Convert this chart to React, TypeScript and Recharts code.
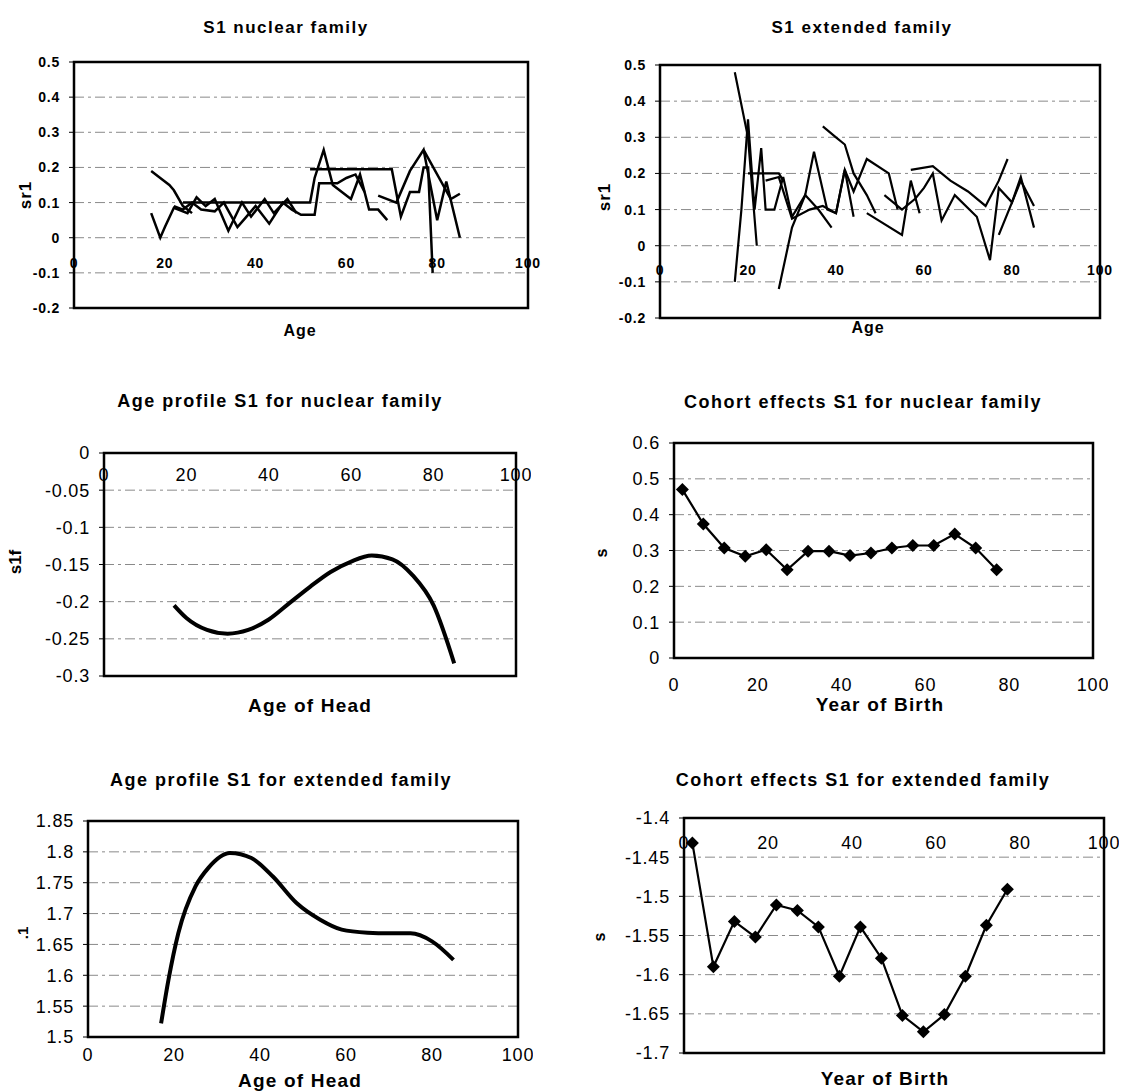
import React from 'react';
import { LineChart, Line, XAxis, YAxis, CartesianGrid, ReferenceArea, ReferenceDot } from 'recharts';

const FONT = '"Liberation Sans", Arial, sans-serif';

type Pt = [number, number];

// ---- axis ticks ----
const xTicks100 = [0, 20, 40, 60, 80, 100];
const srTicks = [-0.2, -0.1, 0, 0.1, 0.2, 0.3, 0.4, 0.5];
const s1fTicks = [-0.3, -0.25, -0.2, -0.15, -0.1, -0.05, 0];
const cohortNucTicks = [0, 0.1, 0.2, 0.3, 0.4, 0.5, 0.6];
const extProfileTicks = [1.5, 1.55, 1.6, 1.65, 1.7, 1.75, 1.8, 1.85];
const cohortExtTicks = [-1.7, -1.65, -1.6, -1.55, -1.5, -1.45, -1.4];

// ---- S1 nuclear family: raw sr1 by age, one line per cohort ----
const nuc1: Pt[] = [[17, 0.19], [19, 0.17], [21, 0.15], [22, 0.135], [24, 0.09], [26, 0.07]];
const nuc2: Pt[] = [[17, 0.07], [19, 0.0], [20, 0.03], [22, 0.085], [25, 0.07], [27, 0.115], [29, 0.09], [31, 0.11], [34, 0.02], [37, 0.1], [39, 0.06], [42, 0.11], [44, 0.07], [47, 0.11], [49, 0.07]];
const nuc3: Pt[] = [[22, 0.09], [24, 0.08], [26, 0.1], [28, 0.08], [31, 0.075], [33, 0.1], [36, 0.03], [38, 0.06], [40, 0.09], [43, 0.04], [46, 0.1], [48, 0.08], [50, 0.065], [53, 0.065], [54, 0.155], [58, 0.155], [60, 0.17], [62, 0.18], [64, 0.13]];
const nuc4: Pt[] = [[24, 0.1], [52, 0.1], [53, 0.17], [55, 0.25], [57, 0.15], [59, 0.13], [61, 0.11], [63, 0.18], [65, 0.08], [67, 0.08], [69, 0.05]];
const nuc5: Pt[] = [[52, 0.195], [70, 0.195], [72, 0.06], [74, 0.13], [76, 0.13], [77, 0.2], [78, 0.2], [79, -0.1]];
const nuc6: Pt[] = [[67, 0.12], [71, 0.1], [74, 0.19], [77, 0.25], [80, 0.05], [82, 0.16], [85, 0.0]];
const nuc7: Pt[] = [[77, 0.25], [83, 0.11], [85, 0.125]];

// ---- S1 extended family ----
const ext1: Pt[] = [[17, 0.48], [20, 0.3], [22, 0.0]];
const ext2: Pt[] = [[17, -0.1], [18.5, 0.1], [20, 0.35], [21.5, 0.1], [23, 0.27], [24, 0.1], [26, 0.1], [28, 0.19], [30, 0.08], [33, 0.14], [35, 0.26], [38, 0.1], [40, 0.09], [42, 0.21], [44, 0.08]];
const ext3: Pt[] = [[20, 0.2], [27, 0.2], [28, 0.18]];
const ext4: Pt[] = [[24, 0.18], [27, 0.19], [30, 0.075], [34, 0.1], [37, 0.11], [40, 0.09], [42, 0.21], [44, 0.15], [47, 0.24], [52, 0.2], [54, 0.1]];
const ext5: Pt[] = [[27, -0.12], [30, 0.05], [33, 0.14], [36, 0.1], [39, 0.05]];
const ext6: Pt[] = [[37, 0.33], [40, 0.3], [42, 0.28], [44, 0.2], [47, 0.14], [49, 0.09]];
const ext7: Pt[] = [[47, 0.09], [55, 0.03], [57, 0.18], [59, 0.09]];
const ext8: Pt[] = [[51, 0.14], [55, 0.1], [58, 0.13], [60, 0.16], [62, 0.2], [64, 0.07], [67, 0.14], [72, 0.08], [75, -0.04], [77, 0.16], [80, 0.12], [82, 0.19], [85, 0.05]];
const ext9: Pt[] = [[57, 0.21], [62, 0.22], [66, 0.18], [70, 0.15], [74, 0.11], [77, 0.18], [79, 0.24]];
const ext10: Pt[] = [[77, 0.03], [82, 0.18], [85, 0.11]];

// ---- Age profile S1 for nuclear family ----
const nucProfileAge = [17, 20, 25, 30, 35, 40, 45, 50, 55, 60, 65, 70, 75, 80, 85];
const nucProfileVal = [-0.205, -0.222, -0.238, -0.243, -0.238, -0.224, -0.202, -0.18, -0.16, -0.146, -0.138, -0.143, -0.165, -0.205, -0.283];

// ---- Age profile S1 for extended family ----
const extProfileAge = [17, 18.7, 21, 25, 28, 33, 38, 43, 48.5, 54, 59, 65, 70, 75, 80, 85];
const extProfileVal = [1.522, 1.592, 1.668, 1.744, 1.774, 1.798, 1.79, 1.76, 1.717, 1.69, 1.674, 1.669, 1.668, 1.668, 1.655, 1.625];

// ---- Cohort effects ----
const cohortYears = [2, 7, 12, 17, 22, 27, 32, 37, 42, 47, 52, 57, 62, 67, 72, 77];
const cohortNucVal = [0.47, 0.374, 0.307, 0.284, 0.302, 0.246, 0.298, 0.298, 0.286, 0.293, 0.307, 0.314, 0.314, 0.346, 0.307, 0.246];
const cohortExtVal = [-1.432, -1.59, -1.532, -1.552, -1.511, -1.518, -1.539, -1.602, -1.539, -1.579, -1.652, -1.673, -1.651, -1.602, -1.537, -1.491];

const zip = (xs: number[], ys: number[]): Pt[] => xs.map((x, i) => [x, ys[i]]);
const rows = (pts: Pt[]) => pts.map(([x, y]) => ({ x, y }));

function Diamond(props: any) {
  const { cx, cy } = props;
  if (cx == null || cy == null) return null;
  const r = 6.5;
  return <polygon points={`${cx},${cy - r} ${cx + r},${cy} ${cx},${cy + r} ${cx - r},${cy}`} fill="#000" />;
}

type Series = { pts: Pt[]; width: number; curve?: 'linear' | 'monotone'; dots?: boolean };

type PanelProps = {
  box: [number, number, number, number]; // left, top, right, bottom
  yDomain: [number, number];
  yTicks: number[];
  xAt: 'bottom' | number;
  xLabelGap: number;
  fontSize: number;
  bold?: boolean;
  spacing?: number;
  series: Series[];
};

function Panel({ box, yDomain, yTicks, xAt, xLabelGap, fontSize, bold, spacing = 0, series }: PanelProps) {
  const [l, t, r, b] = box;
  const yW = 75;
  const left = l - yW;
  const top = t - 10;
  const bottomPad = xAt === 'bottom' ? 40 : 15;
  const width = r - left + 15;
  const height = b - top + bottomPad;
  const tickStyle = { fill: '#000', fontSize, fontFamily: FONT, fontWeight: bold ? 700 : 400, letterSpacing: spacing };
  return (
    <div style={{ position: 'absolute', left, top }}>
      <LineChart width={width} height={height} margin={{ top: 10, right: 15, left: 0, bottom: xAt === 'bottom' ? 0 : 15 }}>
        <CartesianGrid vertical={false} horizontal stroke="#8a8a8a" strokeDasharray="10 4 3 4" />
        {xAt === 'bottom' ? (
          <XAxis type="number" dataKey="x" domain={[0, 100]} ticks={xTicks100} interval={0} allowDataOverflow
            axisLine={false} tickLine={false} tickSize={0} tickMargin={xLabelGap} height={40} tick={tickStyle} />
        ) : (
          <XAxis type="number" dataKey="x" domain={[0, 100]} ticks={xTicks100} allowDataOverflow hide />
        )}
        <YAxis type="number" domain={yDomain} ticks={yTicks} interval={0} allowDataOverflow width={yW}
          axisLine={false} tickLine={{ stroke: '#000' }} tickSize={5} tickMargin={9} tick={tickStyle} />
        <ReferenceArea x1={0} x2={100} y1={yDomain[0]} y2={yDomain[1]} fill="none" fillOpacity={0}
          stroke="#000" strokeWidth={2.5} ifOverflow="visible" />
        {series.map((s, i) => (
          <Line key={i} data={rows(s.pts)} dataKey="y" type={s.curve ?? 'linear'} stroke="#000" strokeWidth={s.width}
            dot={s.dots ? <Diamond /> : false} activeDot={false} isAnimationActive={false} />
        ))}
        {xAt !== 'bottom' && xTicks100.map((v) => (
          <ReferenceDot key={`xl${v}`} x={v} y={xAt} r={0} ifOverflow="visible" stroke="none" fill="none"
            label={{ value: String(v), position: 'bottom', offset: xLabelGap, ...tickStyle }} />
        ))}
      </LineChart>
    </div>
  );
}

function Text({ x, y, size, children, rotate, bold = true, spacing = 0 }: { x: number; y: number; size: number; children: React.ReactNode; rotate?: boolean; bold?: boolean; spacing?: number }) {
  return (
    <div style={{
      position: 'absolute', left: x, top: y, whiteSpace: 'nowrap', fontFamily: FONT, fontSize: size,
      fontWeight: bold ? 700 : 400, letterSpacing: spacing, color: '#000', lineHeight: 1,
      transform: `translate(-50%, -50%)${rotate ? ' rotate(-90deg)' : ''}`,
    }}>{children}</div>
  );
}

export default function App() {
  const nucSeries: Series[] = [nuc1, nuc2, nuc3, nuc4, nuc5, nuc6, nuc7].map((pts) => ({ pts, width: 2.5 }));
  const extSeries: Series[] = [ext1, ext2, ext3, ext4, ext5, ext6, ext7, ext8, ext9, ext10].map((pts) => ({ pts, width: 2.2 }));
  return (
    <div style={{ position: 'absolute', left: 0, top: 0, width: 1128, height: 1092, background: '#fff', overflow: 'hidden' }}>
      {/* row 1 */}
      <Text x={286} y={27} size={17} spacing={1.5}>S1 nuclear family</Text>
      <Panel box={[74, 62, 528, 308]} yDomain={[-0.2, 0.5]} yTicks={srTicks} xAt={0} xLabelGap={20} fontSize={14} bold spacing={0.8} series={nucSeries} />
      <Text x={300} y={331} size={16} spacing={1}>Age</Text>
      <Text x={25} y={195} size={17} rotate spacing={1}>sr1</Text>

      <Text x={862} y={27} size={17} spacing={1.5}>S1 extended family</Text>
      <Panel box={[660, 65, 1100, 318]} yDomain={[-0.2, 0.5]} yTicks={srTicks} xAt={0} xLabelGap={19} fontSize={14} bold spacing={0.8} series={extSeries} />
      <Text x={868} y={328} size={16} spacing={1}>Age</Text>
      <Text x={604} y={197} size={17} rotate spacing={1}>sr1</Text>

      {/* row 2 */}
      <Text x={280} y={401} size={18} spacing={1.5}>Age profile S1 for nuclear family</Text>
      <Panel box={[104, 453, 516, 676]} yDomain={[-0.3, 0]} yTicks={s1fTicks} xAt={0} xLabelGap={15} fontSize={18} spacing={0.8}
        series={[{ pts: zip(nucProfileAge, nucProfileVal), width: 4, curve: 'monotone' }]} />
      <Text x={310} y={705} size={19} spacing={1.2}>Age of Head</Text>
      <Text x={15} y={562} size={17} rotate>s1f</Text>

      <Text x={863} y={402} size={18} spacing={1.5}>Cohort effects S1 for nuclear family</Text>
      <Panel box={[674, 443, 1093, 658]} yDomain={[0, 0.6]} yTicks={cohortNucTicks} xAt="bottom" xLabelGap={20} fontSize={18} spacing={0.8}
        series={[{ pts: zip(cohortYears, cohortNucVal), width: 2.2, dots: true }]} />
      <Text x={880} y={704} size={19} spacing={1.2}>Year of Birth</Text>
      <Text x={602} y={553} size={16} rotate>s</Text>

      {/* row 3 */}
      <Text x={281} y={780} size={18} spacing={1.5}>Age profile S1 for extended family</Text>
      <Panel box={[88, 821, 518, 1037]} yDomain={[1.5, 1.85]} yTicks={extProfileTicks} xAt="bottom" xLabelGap={11} fontSize={18} spacing={0.8}
        series={[{ pts: zip(extProfileAge, extProfileVal), width: 4, curve: 'monotone' }]} />
      <Text x={300} y={1080} size={19} spacing={1.2}>Age of Head</Text>
      <Text x={22} y={933} size={15} rotate>.1</Text>

      <Text x={863} y={780} size={18} spacing={1.5}>Cohort effects S1 for extended family</Text>
      <Panel box={[684, 818, 1104, 1053]} yDomain={[-1.7, -1.4]} yTicks={cohortExtTicks} xAt={-1.4} xLabelGap={18} fontSize={18} spacing={0.8}
        series={[{ pts: zip(cohortYears, cohortExtVal), width: 2.2, dots: true }]} />
      <Text x={885} y={1078} size={19} spacing={1.2}>Year of Birth</Text>
      <Text x={600} y={937} size={16} rotate>s</Text>
    </div>
  );
}
